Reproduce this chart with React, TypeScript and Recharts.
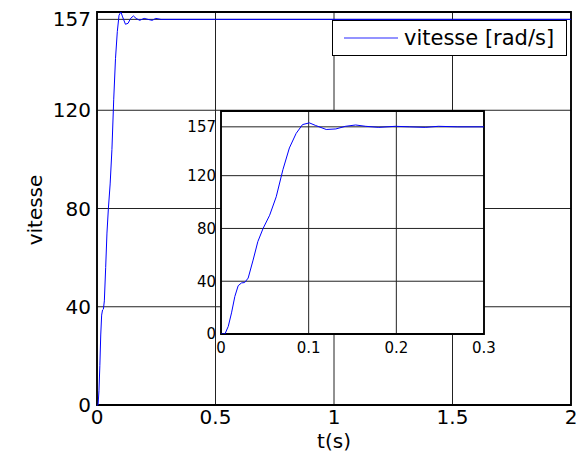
import React from 'react';
import { LineChart, Line, XAxis, YAxis, CartesianGrid, ReferenceArea, Legend } from 'recharts';

const timeS = [0, 0.0045, 0.0083, 0.012, 0.0158, 0.0196, 0.0234, 0.027, 0.031, 0.0366, 0.042, 0.048, 0.0555, 0.063, 0.0706, 0.078, 0.0857, 0.093, 0.1008, 0.108, 0.12, 0.131, 0.142, 0.1536, 0.165, 0.18, 0.199, 0.215, 0.233, 0.248, 0.27, 0.3, 0.5, 1, 1.5, 2];
const speedRadS = [0, 0, 5.8, 16, 28.5, 36.6, 38.7, 39, 42.4, 56, 70, 80, 90, 104, 124.5, 141, 152, 158.7, 160, 158, 155, 155.4, 157.4, 158.4, 157.4, 156.6, 157.4, 157, 156.6, 157.4, 157, 157, 157, 157, 157, 157];

const mainXTicks = [0, 0.5, 1, 1.5, 2];
const mainYTicks = [0, 40, 80, 120, 157];
const insetXTicks = [0, 0.1, 0.2, 0.3];
const insetYTicks = [0, 40, 80, 120, 157];
const seriesName = 'vitesse [rad/s]';
const xLabel = 't(s)';
const yLabel = 'vitesse';

const data = timeS.map((t, i) => ({ t, v: speedRadS[i] }));

const FONT = '"DejaVu Sans", "Liberation Sans", Arial, sans-serif';
const BLUE = '#0000ff';

const LegendBox = () => (
  <div
    style={{
      width: 233,
      height: 34,
      border: '1px solid #000',
      background: '#fff',
      display: 'flex',
      alignItems: 'center',
      fontFamily: FONT,
      fontSize: 21,
      color: '#000',
      boxSizing: 'content-box',
      whiteSpace: 'nowrap',
    }}
  >
    <svg width={70} height={34} style={{ display: 'block', flex: 'none' }}>
      <line x1={11} y1={17} x2={65} y2={17} stroke="#6f6fff" strokeWidth={1.5} />
    </svg>
    <span style={{ marginLeft: 1 }}>{seriesName}</span>
  </div>
);

export default function App() {
  return (
    <div style={{ position: 'absolute', left: 0, top: 0, width: 586, height: 463, background: '#fff' }}>
      <div style={{ position: 'absolute', left: 0, top: 0 }}>
        <LineChart width={586} height={463} data={data} margin={{ top: 12, right: 15, bottom: 0, left: 0 }}>
          <CartesianGrid stroke="#222" strokeWidth={1} />
          <XAxis
            dataKey="t"
            type="number"
            domain={[0, 2]}
            ticks={mainXTicks}
            height={58}
            axisLine={false}
            tickLine={false}
            tickSize={0}
            tickMargin={5}
            tick={{ fontSize: 20, fill: '#000', fontFamily: FONT }}
            label={{ value: xLabel, position: 'insideBottom', offset: 15, fontSize: 20, fill: '#000', fontFamily: FONT }}
          />
          <YAxis
            type="number"
            domain={[0, 160]}
            ticks={mainYTicks}
            width={97}
            axisLine={false}
            tickLine={false}
            tickSize={0}
            tickMargin={6}
            tick={{ fontSize: 20, fill: '#000', fontFamily: FONT }}
            label={{
              content: () => (
                <text
                  x={35}
                  y={210}
                  transform="rotate(-90 35 210)"
                  textAnchor="middle"
                  dominantBaseline="central"
                  fontSize={20}
                  fontFamily={FONT}
                  fill="#000"
                >
                  {yLabel}
                </text>
              ),
            }}
          />
          <Line dataKey="v" name={seriesName} stroke={BLUE} strokeWidth={1} dot={false} isAnimationActive={false} />
          <ReferenceArea x1={0} x2={2} y1={0} y2={160} fill="none" stroke="#000" strokeWidth={1.8} />
          <Legend
            layout="horizontal"
            verticalAlign="middle"
            align="center"
            wrapperStyle={{ position: 'absolute', left: 332, top: 20, width: 235, height: 36 }}
            content={() => <LegendBox />}
          />
        </LineChart>
      </div>
      <div style={{ position: 'absolute', left: 180, top: 100 }}>
        <LineChart width={320} height={260} data={data} margin={{ top: 11, right: 16, bottom: 0, left: 0 }}>
          <CartesianGrid stroke="#222" strokeWidth={1} fill="#fff" fillOpacity={1} />
          <XAxis
            dataKey="t"
            type="number"
            domain={[0, 0.3]}
            allowDataOverflow
            ticks={insetXTicks}
            height={26}
            axisLine={false}
            tickLine={false}
            tickSize={0}
            tickMargin={8}
            tick={{ fontSize: 15, fill: '#000', fontFamily: FONT }}
          />
          <YAxis
            type="number"
            domain={[0, 169]}
            allowDataOverflow
            ticks={insetYTicks}
            width={41}
            axisLine={false}
            tickLine={false}
            tickSize={0}
            tickMargin={5}
            tick={{ fontSize: 15, fill: '#000', fontFamily: FONT }}
          />
          <Line dataKey="v" name={seriesName} stroke={BLUE} strokeWidth={1} dot={false} isAnimationActive={false} />
          <ReferenceArea x1={0} x2={0.3} y1={0} y2={169} fill="none" stroke="#000" strokeWidth={1.8} />
        </LineChart>
      </div>
    </div>
  );
}
